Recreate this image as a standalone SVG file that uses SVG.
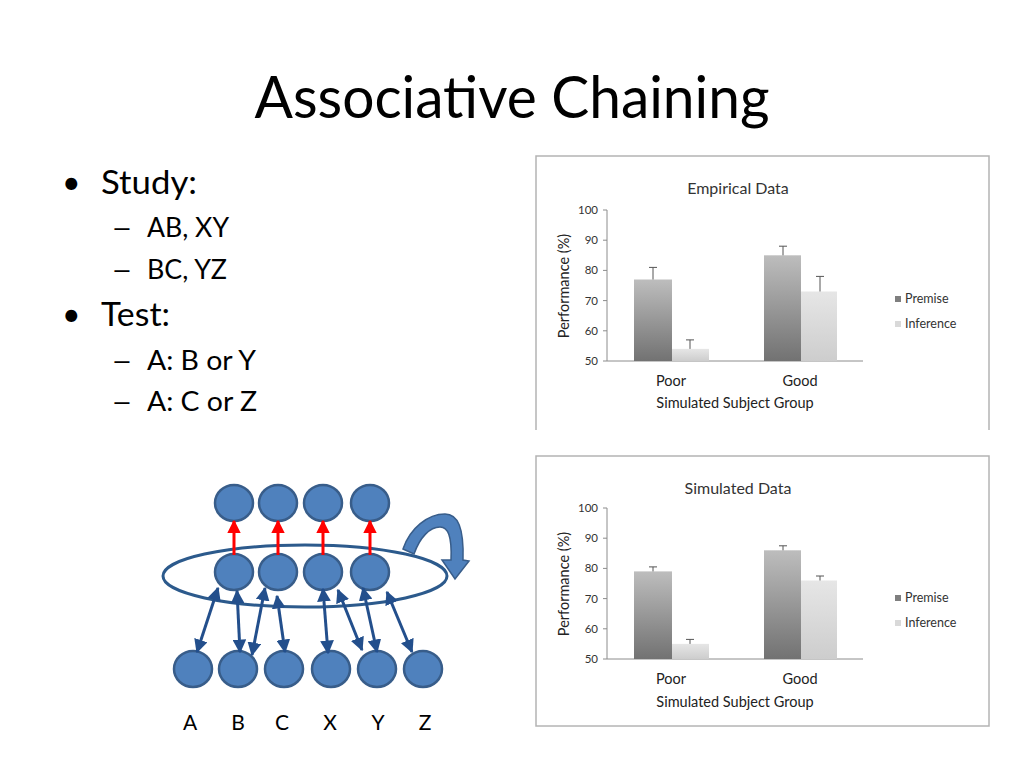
<svg xmlns="http://www.w3.org/2000/svg" width="1024" height="768" viewBox="0 0 1024 768">
<style>
text{font-family:Lato,"Open Sans","Liberation Sans",sans-serif;fill:#000}
.title{font-size:58px}
.b1{font-size:32px}
.b2{font-size:26px}
.node{fill:#4f81bd;stroke:#385d8a;stroke-width:2.5}
.blue{stroke:#234f8c;stroke-width:3;fill:none;marker-start:url(#bh);marker-end:url(#bh)}
.red{stroke:#ff0000;stroke-width:3;fill:none;marker-end:url(#rh)}
.lbl{font-size:21px;text-anchor:middle}
.frame{fill:none;stroke:#b4b4b4;stroke-width:1.5}
.axis{stroke:#8c8c8c;stroke-width:1;fill:none}
.tick{font-size:11.5px;text-anchor:end;fill:#333}
.ct{font-size:16px;text-anchor:middle;fill:#333}
.cx{font-size:14.5px;text-anchor:middle;fill:#222}
.leg{font-size:12.5px;fill:#333}
.err{stroke:#555;stroke-width:1;fill:none}
.pre{fill:url(#gp)}
.inf{fill:url(#gi)}
</style>
<defs>
<marker id="bh" viewBox="0 0 10 10" refX="9" refY="5" markerWidth="4.6" markerHeight="4.6" orient="auto-start-reverse" markerUnits="strokeWidth">
<path d="M0,0 L10,5 L0,10 Z" fill="#234f8c"/>
</marker>
<marker id="rh" viewBox="0 0 10 10" refX="9" refY="5" markerWidth="4.6" markerHeight="4.6" orient="auto" markerUnits="strokeWidth">
<path d="M0,0 L10,5 L0,10 Z" fill="#ff0000"/>
</marker>
<linearGradient id="gp" x1="0" y1="0" x2="0" y2="1">
<stop offset="0" stop-color="#bdbdbd"/>
<stop offset="1" stop-color="#727272"/>
</linearGradient>
<linearGradient id="gi" x1="0" y1="0" x2="0" y2="1">
<stop offset="0" stop-color="#e6e6e6"/>
<stop offset="1" stop-color="#cdcdcd"/>
</linearGradient>
</defs>
<rect width="1024" height="768" fill="#ffffff"/>

<text class="title" x="512" y="118" text-anchor="middle" textLength="515" lengthAdjust="spacingAndGlyphs">Associative Chaining</text>

<g id="bullets">
<text class="b1" x="62" y="194">•</text>
<text class="b1" x="101" y="194" textLength="96" lengthAdjust="spacingAndGlyphs">Study:</text>
<text class="b2" transform="translate(111,237) scale(1.45,1)">–</text>
<text class="b2" x="147" y="237" textLength="82" lengthAdjust="spacingAndGlyphs">AB, XY</text>
<text class="b2" transform="translate(111,279) scale(1.45,1)">–</text>
<text class="b2" x="147" y="279" textLength="80" lengthAdjust="spacingAndGlyphs">BC, YZ</text>
<text class="b1" x="62" y="326">•</text>
<text class="b1" x="101" y="326" textLength="69" lengthAdjust="spacingAndGlyphs">Test:</text>
<text class="b2" transform="translate(111,370) scale(1.45,1)">–</text>
<text class="b2" x="147" y="370" textLength="109" lengthAdjust="spacingAndGlyphs">A: B or Y</text>
<text class="b2" transform="translate(111,411) scale(1.45,1)">–</text>
<text class="b2" x="147" y="411" textLength="110" lengthAdjust="spacingAndGlyphs">A: C or Z</text>
</g>

<!-- Empirical chart -->
<g id="chart-empirical">
<path class="frame" d="M536,430 V156 H989 V430"/>
<text class="ct" x="738" y="194">Empirical Data</text>
<path class="axis" d="M607,210 V361 H863 M603,210 H607 M603,240.2 H607 M603,270.4 H607 M603,300.6 H607 M603,330.8 H607 M603,361 H607"/>
<text class="tick" x="598" y="214">100</text>
<text class="tick" x="598" y="244">90</text>
<text class="tick" x="598" y="274">80</text>
<text class="tick" x="598" y="305">70</text>
<text class="tick" x="598" y="335">60</text>
<text class="tick" x="598" y="365">50</text>
<text class="cx" transform="translate(569,286) rotate(-90)">Performance (%)</text>
<rect class="pre" x="634" y="279.5" width="38" height="81.5"/>
<rect class="inf" x="672" y="348.9" width="37" height="12.1"/>
<rect class="pre" x="764" y="255.3" width="37" height="105.7"/>
<rect class="inf" x="801" y="291.5" width="36" height="69.5"/>
<path class="err" d="M653,279.5 V267.4 M649,267.4 H657 M690,348.9 V339.9 M686,339.9 H694 M783,255.3 V246.2 M779,246.2 H787 M820,291.5 V276.4 M816,276.4 H824"/>
<text class="cx" x="671" y="386">Poor</text>
<text class="cx" x="800" y="386">Good</text>
<text class="cx" x="735" y="408">Simulated Subject Group</text>
<rect x="895" y="296" width="6" height="6" fill="#7f7f7f"/>
<text class="leg" x="905" y="303">Premise</text>
<rect x="895" y="321" width="6" height="6" fill="#d9d9d9"/>
<text class="leg" x="905" y="328">Inference</text>
</g>

<!-- Simulated chart -->
<g id="chart-simulated">
<rect class="frame" x="536" y="456" width="453" height="270"/>
<text class="ct" x="738" y="494">Simulated Data</text>
<path class="axis" d="M607,508 V659 H863 M603,508 H607 M603,538.2 H607 M603,568.4 H607 M603,598.6 H607 M603,628.8 H607 M603,659 H607"/>
<text class="tick" x="598" y="512">100</text>
<text class="tick" x="598" y="542">90</text>
<text class="tick" x="598" y="572">80</text>
<text class="tick" x="598" y="603">70</text>
<text class="tick" x="598" y="633">60</text>
<text class="tick" x="598" y="663">50</text>
<text class="cx" transform="translate(569,584) rotate(-90)">Performance (%)</text>
<rect class="pre" x="634" y="571.4" width="38" height="87.6"/>
<rect class="inf" x="672" y="643.9" width="37" height="15.1"/>
<rect class="pre" x="764" y="550.3" width="37" height="108.7"/>
<rect class="inf" x="801" y="580.5" width="36" height="78.5"/>
<path class="err" d="M653,571.4 V566.9 M649,566.9 H657 M690,643.9 V639.4 M686,639.4 H694 M783,550.3 V545.8 M779,545.8 H787 M820,580.5 V576 M816,576 H824"/>
<text class="cx" x="671" y="684">Poor</text>
<text class="cx" x="800" y="684">Good</text>
<text class="cx" x="735" y="707">Simulated Subject Group</text>
<rect x="895" y="595" width="6" height="6" fill="#7f7f7f"/>
<text class="leg" x="905" y="602">Premise</text>
<rect x="895" y="620" width="6" height="6" fill="#d9d9d9"/>
<text class="leg" x="905" y="627">Inference</text>
</g>

<!-- Network -->
<g id="top-nodes">
<ellipse id="t1" class="node" cx="234" cy="503" rx="19" ry="18"/>
<ellipse id="t2" class="node" cx="278" cy="503" rx="19" ry="18"/>
<ellipse id="t3" class="node" cx="323" cy="503" rx="19" ry="18"/>
<ellipse id="t4" class="node" cx="370" cy="503" rx="19" ry="18"/>
</g>
<g id="middle-nodes">
<ellipse id="m1" class="node" cx="234" cy="572" rx="19" ry="18"/>
<ellipse id="m2" class="node" cx="278" cy="572" rx="19" ry="18"/>
<ellipse id="m3" class="node" cx="323" cy="572" rx="19" ry="18"/>
<ellipse id="m4" class="node" cx="370" cy="572" rx="19" ry="18"/>
</g>
<g id="bottom-nodes">
<ellipse id="nA" class="node" cx="193" cy="669" rx="19" ry="18"/>
<ellipse id="nB" class="node" cx="238" cy="669" rx="19" ry="18"/>
<ellipse id="nC" class="node" cx="284" cy="669" rx="19" ry="18"/>
<ellipse id="nX" class="node" cx="331" cy="669" rx="19" ry="18"/>
<ellipse id="nY" class="node" cx="377" cy="669" rx="19" ry="18"/>
<ellipse id="nZ" class="node" cx="423" cy="669" rx="19" ry="18"/>
</g>
<g id="group-ellipse">
<ellipse cx="305" cy="576" rx="142" ry="31" fill="none" stroke="#2c5a8c" stroke-width="3"/>
</g>
<g id="recurrent-arrow">
<path d="M403,549 C410,528 428,514 445,514 C458,514 464,528 463,560 L469,561 L455,579 L442,560 L451,560 C452,536 448,527 440,527 C430,527 420,537 414,554 Z" fill="#4f81bd" stroke="#385d8a" stroke-width="1.5"/>
</g>
<g id="connectors">
<line class="red" x1="234" y1="555" x2="234" y2="521"/>
<line class="red" x1="278" y1="555" x2="278" y2="521"/>
<line class="red" x1="323" y1="555" x2="323" y2="521"/>
<line class="red" x1="370" y1="555" x2="370" y2="521"/>
<line class="blue" x1="218" y1="588" x2="197" y2="652"/>
<line class="blue" x1="237" y1="591" x2="240" y2="652"/>
<line class="blue" x1="265" y1="588" x2="252" y2="655"/>
<line class="blue" x1="277" y1="596" x2="285" y2="652"/>
<line class="blue" x1="323" y1="589" x2="328" y2="653"/>
<line class="blue" x1="338" y1="590" x2="362" y2="650"/>
<line class="blue" x1="363" y1="588" x2="377" y2="652"/>
<line class="blue" x1="387" y1="592" x2="412" y2="652"/>
</g>
<g id="labels">
<text class="lbl" x="190" y="730">A</text>
<text class="lbl" x="238" y="730">B</text>
<text class="lbl" x="282" y="730">C</text>
<text class="lbl" x="330" y="730">X</text>
<text class="lbl" x="378" y="730">Y</text>
<text class="lbl" x="425" y="730">Z</text>
</g>
</svg>
